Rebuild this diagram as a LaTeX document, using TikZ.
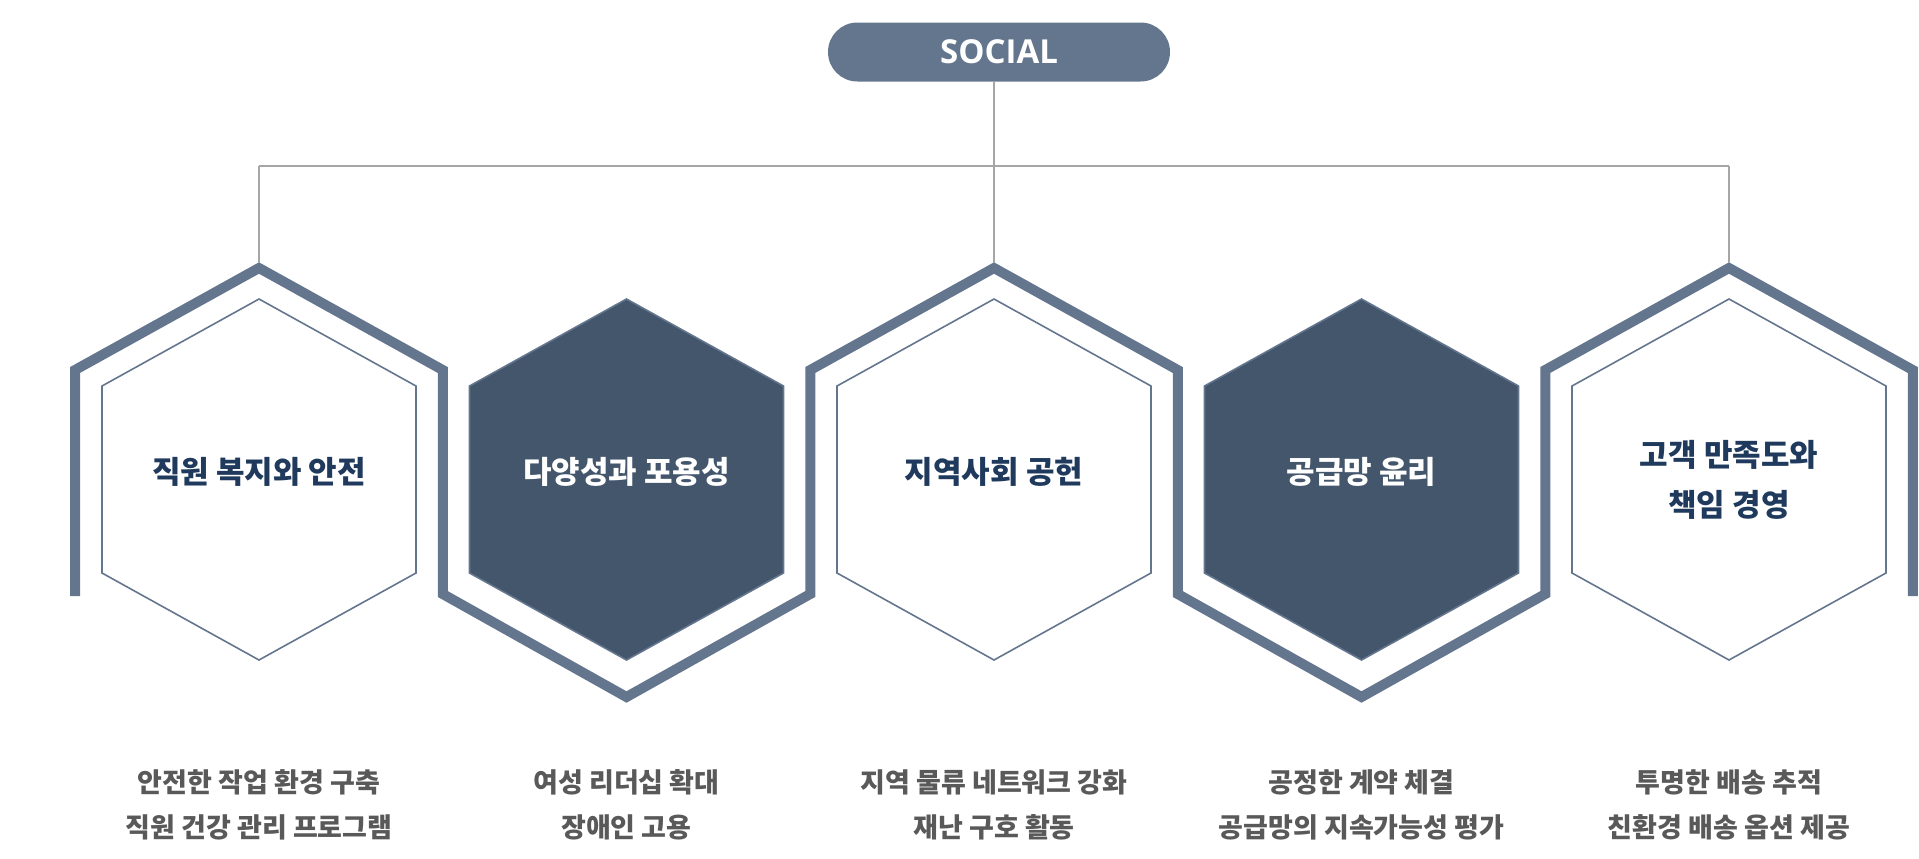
\documentclass[tikz,border=0pt]{standalone}
\usepackage{fontspec}
\setmainfont{Noto Sans CJK KR}
\newfontfamily\latinfont{Open Sans}
\usepackage{tikz}
\usetikzlibrary{calc, positioning}
\definecolor{framecol}{HTML}{64768E}
\definecolor{darkhex}{HTML}{44566C}
\definecolor{pillcol}{HTML}{64768D}
\definecolor{titlecol}{HTML}{1F3A5C}
\definecolor{textgray}{HTML}{595959}
\definecolor{linegray}{HTML}{A6A6A6}

\begin{document}
\begin{tikzpicture}[x=0.5pt, y=-0.5pt,
    hexline/.style={draw=framecol, line width=0.8pt, fill=white},
    hexdark/.style={draw=framecol, line width=0.8pt, fill=darkhex},
    zigzag/.style={draw=framecol, line width=5pt, line join=miter},
    branch/.style={draw=linegray, line width=0.6pt},
    hextitle/.style={font=\bfseries\fontsize{15.5}{25}\selectfont, text=titlecol, align=center},
    hextitlew/.style={hextitle, text=white},
    detail/.style={font=\bfseries\fontsize{13.5}{22.5}\selectfont, text=textgray, align=center}]
    \useasboundingbox (0,0) rectangle (1919,858);

    % 상단 SOCIAL 라벨
    \node[fill=pillcol, rounded corners=14.7pt, minimum width=171pt, minimum height=29.5pt,
          inner sep=0pt, text=white, font=\latinfont\bfseries\fontsize{16.5}{18}\selectfont]
          (social) at (999,52) {SOCIAL};

    % 바깥 지그재그 테두리
    \draw[zigzag] (75,596) -- (75,370) -- (259,268) -- (442.75,370) -- (442.75,594)
        -- (626.5,697) -- (810.25,594) -- (810.25,370) -- (994,268) -- (1177.75,370)
        -- (1177.75,594) -- (1361.5,697) -- (1545.25,594) -- (1545.25,370) -- (1729,268)
        -- (1912.75,370) -- (1912.75,596);

    % 육각형 1
    \begin{scope}[shift={(259,0)}]
        \draw[hexline] (0,299) -- (157,386) -- (157,573) -- (0,660) -- (-157,573) -- (-157,386) -- cycle;
        \node[hextitle] (title1) at (0,472) {직원 복지와 안전};
        \node[detail] (detail1) at (0,805) {안전한 작업 환경 구축\\직원 건강 관리 프로그램};
        \coordinate (top1) at (0,263);
        \coordinate (bar1) at (0,166);
    \end{scope}

    % 육각형 2
    \begin{scope}[shift={(626.5,0)}]
        \draw[hexdark] (0,299) -- (157,386) -- (157,573) -- (0,660) -- (-157,573) -- (-157,386) -- cycle;
        \node[hextitlew] (title2) at (0,472) {다양성과 포용성};
        \node[detail] (detail2) at (0,805) {여성 리더십 확대\\장애인 고용};
    \end{scope}

    % 육각형 3
    \begin{scope}[shift={(994,0)}]
        \draw[hexline] (0,299) -- (157,386) -- (157,573) -- (0,660) -- (-157,573) -- (-157,386) -- cycle;
        \node[hextitle] (title3) at (0,472) {지역사회 공헌};
        \node[detail] (detail3) at (0,805) {지역 물류 네트워크 강화\\재난 구호 활동};
        \coordinate (top3) at (0,263);
        \coordinate (bar3) at (0,166);
    \end{scope}

    % 육각형 4
    \begin{scope}[shift={(1361.5,0)}]
        \draw[hexdark] (0,299) -- (157,386) -- (157,573) -- (0,660) -- (-157,573) -- (-157,386) -- cycle;
        \node[hextitlew] (title4) at (0,472) {공급망 윤리};
        \node[detail] (detail4) at (0,805) {공정한 계약 체결\\공급망의 지속가능성 평가};
    \end{scope}

    % 육각형 5
    \begin{scope}[shift={(1729,0)}]
        \draw[hexline] (0,299) -- (157,386) -- (157,573) -- (0,660) -- (-157,573) -- (-157,386) -- cycle;
        \node[hextitle] (title5) at (0,480) {고객 만족도와\\책임 경영};
        \node[detail] (detail5) at (0,805) {투명한 배송 추적\\친환경 배송 옵션 제공};
        \coordinate (top5) at (0,263);
        \coordinate (bar5) at (0,166);
    \end{scope}

    % 연결선
    \draw[branch] (social.south -| bar3) -- (bar3);
    \draw[branch] (bar1) -- (bar5);
    \draw[branch] (bar1) -- (top1);
    \draw[branch] (bar3) -- (top3);
    \draw[branch] (bar5) -- (top5);
\end{tikzpicture}
\end{document}
